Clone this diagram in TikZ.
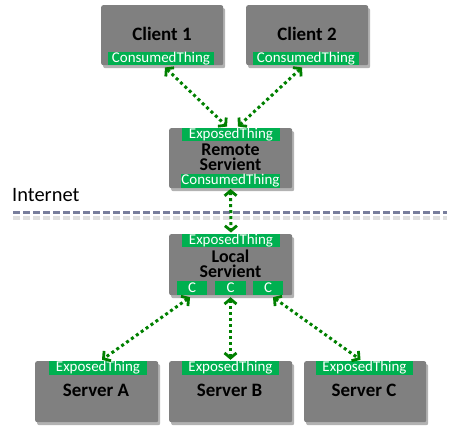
\documentclass[tikz,border=0pt]{standalone}
\usepackage{fontspec}
\setmainfont{Carlito}
\usetikzlibrary{arrows.meta,shadows}
\definecolor{boxgray}{RGB}{128,128,128}
\definecolor{taggreen}{RGB}{0,176,80}
\definecolor{arrgreen}{RGB}{0,128,0}
\definecolor{netline}{RGB}{120,126,156}
\begin{document}
\begin{tikzpicture}[x=1bp,y=-1bp,
  box/.style={fill=boxgray, rounded corners=2bp, inner sep=0pt, anchor=north west,
    drop shadow={shadow xshift=2bp, shadow yshift=-3bp, opacity=0.3, fill=black}},
  title/.style={font=\fontsize{19}{16}\selectfont\bfseries, text=black, align=center, inner sep=0pt},
  stitle/.style={title, font=\fontsize{18}{15}\selectfont\bfseries},
  tag/.style={fill=taggreen, text=white, inner sep=0pt, minimum height=13.5bp,
    font=\fontsize{15}{14}\selectfont},
  conn/.style={draw=arrgreen, line width=3bp, dash pattern=on 3bp off 3bp,
    {Straight Barb[length=5bp,width=12bp,line width=2.8bp]}-{Straight Barb[length=5bp,width=12bp,line width=2.8bp]}},
]
\useasboundingbox (0,0) rectangle (456,437);
% boxes
\node[box, minimum width=122bp, minimum height=60bp] (c1) at (101,5) {};
\node[box, minimum width=122bp, minimum height=60bp] (c2) at (246,5) {};
\node[box, minimum width=123bp, minimum height=60bp] (rs) at (169,128) {};
\node[box, minimum width=123bp, minimum height=61bp] (ls) at (169,234) {};
\node[box, minimum width=123bp, minimum height=61bp] (sa) at (35,361) {};
\node[box, minimum width=123bp, minimum height=61bp] (sb) at (169,361) {};
\node[box, minimum width=122bp, minimum height=61bp] (sc) at (304,361) {};
% titles
\node[title] (c1n) at (162,34) {Client 1};
\node[title] (c2n) at (307,34) {Client 2};
\node[stitle] (rsn) at (230.5,157.5) {Remote\\Servient};
\node[stitle] (lsn) at (230.5,263.5) {Local\\Servient};
\node[title] (san) at (96,390) {Server A};
\node[title] (sbn) at (229.5,390) {Server B};
\node[title] (scn) at (364,390) {Server C};
% tags
\node[tag, minimum width=106bp] (c1t) at (161,58.5) {ConsumedThing};
\node[tag, minimum width=106bp] (c2t) at (306,58.5) {ConsumedThing};
\node[tag, minimum width=98bp] (rst) at (231,134.5) {ExposedThing};
\node[tag, minimum width=99bp] (rsb) at (230.5,181) {ConsumedThing};
\node[tag, minimum width=98bp] (lst) at (231,240.5) {ExposedThing};
\node[tag, minimum width=30bp, minimum height=14bp] (lc1) at (192,288) {C};
\node[tag, minimum width=31bp, minimum height=14bp] (lc2) at (230.5,288) {C};
\node[tag, minimum width=30bp, minimum height=14bp] (lc3) at (268,288) {C};
\node[tag, minimum width=98bp, minimum height=14bp] (sat) at (98,368) {ExposedThing};
\node[tag, minimum width=97bp, minimum height=14bp] (sbt) at (230.5,368) {ExposedThing};
\node[tag, minimum width=97bp, minimum height=14bp] (sct) at (364.5,368) {ExposedThing};
% internet
\node[anchor=west, inner sep=0pt, font=\fontsize{20.5}{20}\selectfont] (inet) at (12,195) {Internet};
\coordinate (nl) at (13,213);
\coordinate (nr) at (447,213);
\draw[gray!25, line width=3.5bp, dash pattern=on 7bp off 3bp] ([yshift=-5bp]nl) -- ([yshift=-5bp]nr);
\draw[netline, line width=3bp, dash pattern=on 7bp off 3bp] (nl) -- (nr);
% connectors
\draw[conn] ([xshift=4bp,yshift=-2bp]c1t.south) -- ([xshift=-4bp,yshift=1bp]rst.north);
\draw[conn] ([xshift=-4bp,yshift=-2bp]c2t.south) -- ([xshift=7bp,yshift=1bp]rst.north);
\draw[conn] ([yshift=-1bp]rsb.south) -- ([yshift=1bp]lst.north);
\draw[conn] ([xshift=-2bp,yshift=-2bp]lc1.south) -- ([xshift=4bp,yshift=1bp]sat.north);
\draw[conn] ([yshift=-2bp]lc2.south) -- ([yshift=1bp]sbt.north);
\draw[conn] ([xshift=5bp,yshift=-2bp]lc3.south) -- ([xshift=-4bp,yshift=1bp]sct.north);
\end{tikzpicture}
\end{document}
